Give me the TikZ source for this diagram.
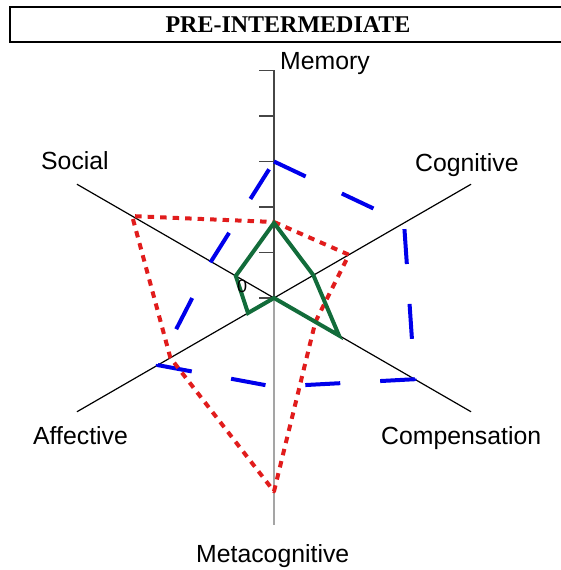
\documentclass[tikz,border=0pt]{standalone}
\usepackage{fontspec}
\setmainfont{Liberation Sans}
\newfontfamily\titlefont{Liberation Serif}
\usetikzlibrary{calc}
\definecolor{serblue}{RGB}{0,0,235}
\definecolor{serred}{RGB}{225,28,28}
\definecolor{sergreen}{RGB}{18,108,58}
\definecolor{axdark}{RGB}{70,70,70}
\definecolor{axlight}{RGB}{165,165,165}
\begin{document}
\begin{tikzpicture}[x=1pt,y=1pt,
  axisline/.style={line width=1.2pt, black},
  tickline/.style={line width=1.2pt, axdark},
  blueline/.style={draw=serblue, line width=4pt, dash pattern=on 35pt off 40pt, line join=round},
  redline/.style={draw=serred, line width=4pt, dash pattern=on 6.5pt off 6pt, line join=round},
  greenline/.style={draw=sergreen, line width=4pt, line join=miter},
  axlabel/.style={anchor=base west, inner sep=0pt, font=\fontsize{24.8}{28}\selectfont},
  titlebox/.style={draw=black, line width=2pt}
]
\useasboundingbox (0,0) rectangle (561,570);
\clip (0,0) rectangle (561,570);
\def\U{45.5}
\coordinate (O) at (274,272);
\foreach \i/\a/\bv/\rv/\gv in {1/90/3/1.67/1.65, 2/30/3.3/1.9/1.0, 3/-30/3.57/1.05/1.65, 4/-90/1.95/4.25/0, 5/210/2.95/2.63/0.66, 6/150/1.6/3.6/0.97} {
  \coordinate (A\i) at ([shift={(\a:{5*\U})}]O);
  \coordinate (B\i) at ([shift={(\a:{\bv*\U})}]O);
  \coordinate (R\i) at ([shift={(\a:{\rv*\U+0.001})}]O);
  \coordinate (G\i) at ([shift={(\a:{\gv*\U+0.001})}]O);
}
% title
\draw[titlebox] (10,528) rectangle (568,563);
\node[font=\titlefont\bfseries\fontsize{24}{28}\selectfont, inner sep=0pt] (title) at (288,545.5) {PRE-INTERMEDIATE};
% axes
\draw[axisline] (O) -- (A2);
\draw[axisline] (O) -- (A3);
\draw[axisline] (O) -- (A5);
\draw[axisline] (O) -- (A6);
\draw[line width=1.2pt, axlight] (O) -- (A4);
\draw[tickline] (O) -- (A1);
\foreach \k in {0,...,5} {
  \draw[tickline] ([shift={(-15,\k*\U)}]O) -- ([shift={(0,\k*\U)}]O);
}
% series
\draw[blueline] (B1) -- (B2) -- (B3) -- (B4) -- (B5) -- (B6) -- cycle;
\draw[redline] (R1) -- (R2) -- (R3) -- (R4) -- (R5) -- (R6) -- cycle;
\draw[greenline] (G1) -- (G2) -- (G3) -- (G4) -- (G5) -- (G6) -- cycle;
% labels
\node[axlabel] (lmem) at (280,500) {Memory};
\node[axlabel] (lcog) at (415,398) {Cognitive};
\node[axlabel] (lsoc) at (41,400) {Social};
\node[axlabel] (laff) at (33,125) {Affective};
\node[axlabel] (lcomp) at (381,125) {Compensation};
\node[axlabel] (lmeta) at (196,8) {Metacognitive};
\node[anchor=base west, inner sep=0pt, font=\fontsize{18}{20}\selectfont] (zero) at (237,277) {0};
\end{tikzpicture}
\end{document}
